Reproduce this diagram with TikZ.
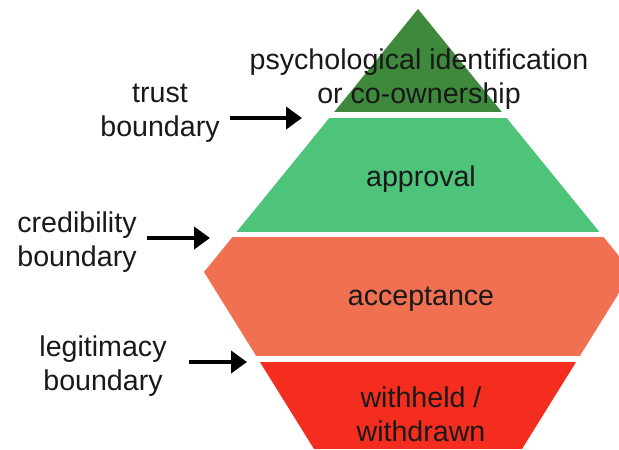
\documentclass[tikz,border=0pt]{standalone}
\usepackage{fontspec}
\setmainfont{Liberation Sans}
\usepackage{tikz}
\usetikzlibrary{positioning,arrows.meta}
\definecolor{topgreen}{RGB}{62,137,60}
\definecolor{apprgreen}{RGB}{78,195,122}
\definecolor{acceptred}{RGB}{241,112,82}
\definecolor{withred}{RGB}{245,45,30}
\definecolor{inktext}{RGB}{25,25,25}
\tikzset{
  lbl/.style={align=center, text=inktext, inner xsep=5pt, font=\fontsize{14.3}{16.8}\selectfont},
  bnd/.style={-{Triangle[length=8pt,width=11pt]}, line width=2.4pt, black},
}

\begin{document}
\begin{tikzpicture}[x=0.5pt,y=-0.5pt]
\clip (0,0) rectangle (619,449);
\fill[white] (0,0) rectangle (619,449);

%Layers
\begin{scope}
\clip (418,9) -- (632,272) -- (522,449) -- (314,449) -- (204,272) -- cycle;
\fill[topgreen] (0,0) rectangle (619,112);
\fill[apprgreen] (0,118) rectangle (619,232);
\fill[acceptred] (0,237) rectangle (619,356);
\fill[withred] (0,362) rectangle (619,449);
\end{scope}

%Nodes
\node[lbl] (ident) at (419,79) {psychological identification\\or co-ownership};
\node[lbl, anchor=base] (appr) at (421,186) {approval};
\node[lbl, anchor=base] (accept) at (421,305) {acceptance};
\node[lbl] (withheld) at (421,414) {withheld /\\withdrawn};
\node[lbl] (trust) at (160,113) {trust\\boundary};
\node[lbl] (cred) at (77,242) {credibility\\boundary};
\node[lbl] (legit) at (103,366) {legitimacy\\boundary};

\coordinate (trusttip) at (302,118);
\coordinate (credtip) at (210,238);
\coordinate (legittip) at (247,362);

%Lines
\draw[bnd] (trust.east |- trusttip) -- (trusttip);
\draw[bnd] (cred.east |- credtip) -- (credtip);
\draw[bnd] ([xshift=6pt]legit.east |- legittip) -- (legittip);
\end{tikzpicture}
\end{document}
